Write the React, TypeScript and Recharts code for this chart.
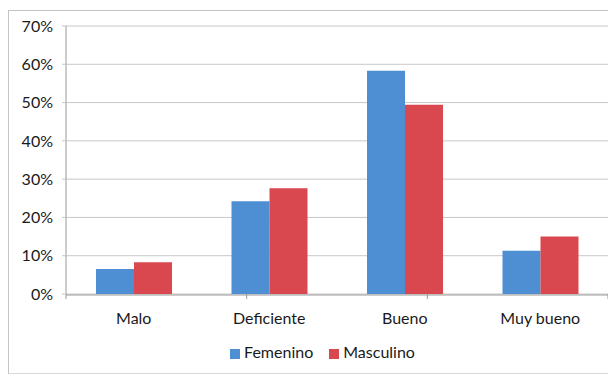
import React from "react";
import { BarChart, Bar, XAxis, YAxis, CartesianGrid, Legend } from "recharts";

const categories = ["Malo", "Deficiente", "Bueno", "Muy bueno"];
const femenino = [6.5, 24.2, 58.3, 11.3];
const masculino = [8.3, 27.6, 49.4, 15.0];
const yTicks = [0, 10, 20, 30, 40, 50, 60, 70];
const boundaryTicks = [0, 1, 2, 3, 4];

const data = categories.map((c, i) => ({
  name: c,
  Femenino: femenino[i],
  Masculino: masculino[i],
}));

const FONT = "Lato, 'Open Sans', sans-serif";

export default function App() {
  return (
    <div
      style={{
        marginTop: 2,
        width: 607,
        height: 362,
        borderLeft: "1px solid #c4c4c4",
        borderTop: "1px solid #c4c4c4",
        borderBottom: "1px solid #d8d8d8",
        background: "#fff",
      }}
    >
      <BarChart
        width={607}
        height={362}
        data={data}
        margin={{ top: 15, right: 8, left: 0, bottom: 29 }}
        barCategoryGap={30}
        barGap={0}
      >
        <CartesianGrid vertical={false} stroke="#c8c8c8" />
        <XAxis
          xAxisId="cat"
          dataKey="name"
          height={30}
          tickLine={false}
          axisLine={{ stroke: "#999" }}
          tickMargin={12}
          tick={{ fill: "#1a1a1a", fontSize: 16, fontFamily: FONT }}
        />
        <XAxis
          xAxisId="bound"
          type="number"
          domain={[0, 4]}
          ticks={boundaryTicks}
          height={1}
          axisLine={false}
          tickFormatter={() => ""}
          tickSize={5}
          tickLine={{ stroke: "#999" }}
        />
        <YAxis
          width={57}
          domain={[0, 70]}
          ticks={yTicks}
          tickFormatter={(v: number) => `${v}%`}
          tickSize={4}
          tickMargin={9}
          axisLine={{ stroke: "#999" }}
          tickLine={{ stroke: "#c8c8c8" }}
          tick={{ fill: "#1a1a1a", fontSize: 16, fontFamily: FONT }}
        />
        <Bar xAxisId="cat" dataKey="Femenino" fill="#4E8FD3" isAnimationActive={false} />
        <Bar xAxisId="cat" dataKey="Masculino" fill="#D9474F" isAnimationActive={false} />
        <Legend
          iconType="square"
          iconSize={10}
          wrapperStyle={{ top: 331, left: 22, bottom: "auto", fontFamily: FONT, fontSize: 16, color: "#1a1a1a" }}
          formatter={(value: string) => (
            <span style={{ color: "#1a1a1a", marginRight: 6 }}>{value}</span>
          )}
        />
      </BarChart>
    </div>
  );
}
